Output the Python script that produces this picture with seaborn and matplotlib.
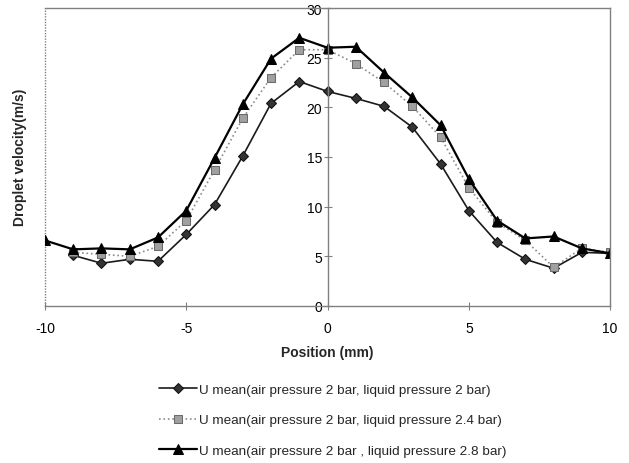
import numpy as np
import pandas as pd
import matplotlib
matplotlib.use("Agg")
import matplotlib.pyplot as plt
import seaborn as sns

positions_1 = [-9, -8, -7, -6, -5, -4, -3, -2, -1, 0, 1, 2, 3, 4, 5, 6, 7, 8, 9, 10]
u_2bar = [5.1, 4.3, 4.7, 4.5, 7.2, 10.2, 15.1, 20.4, 22.6, 21.6, 20.9, 20.1, 18.0, 14.3, 9.6, 6.4, 4.7, 3.8, 5.4, 5.3]

positions_2 = [-9, -8, -7, -6, -5, -4, -3, -2, -1, 0, 1, 2, 3, 4, 5, 6, 7, 8, 9, 10]
u_24bar = [5.4, 5.2, 5.0, 6.0, 8.6, 13.7, 18.9, 23.0, 25.8, 25.8, 24.4, 22.5, 20.1, 17.0, 11.9, 8.4, 6.6, 3.9, 5.8, 5.4]

positions_3 = [-10, -9, -8, -7, -6, -5, -4, -3, -2, -1, 0, 1, 2, 3, 4, 5, 6, 7, 8, 9, 10]
u_28bar = [6.6, 5.7, 5.8, 5.7, 6.9, 9.6, 14.9, 20.3, 24.9, 27.0, 26.0, 26.1, 23.5, 21.0, 18.2, 12.8, 8.6, 6.8, 7.0, 5.8, 5.3]

labels = ["U mean(air pressure 2 bar, liquid pressure 2 bar)",
          "U mean(air pressure 2 bar, liquid pressure 2.4 bar)",
          "U mean(air pressure 2 bar , liquid pressure 2.8 bar)"]

x_ticks = [-10, -5, 0, 5, 10]
y_ticks = [0, 5, 10, 15, 20, 25, 30]

sns.set_theme(style="white")
plt.rcParams['font.family'] = ['Liberation Sans', 'DejaVu Sans']

fig = plt.figure(figsize=(6.29, 4.64), dpi=100)
ax = fig.add_axes([0.0715, 0.3384, 0.8985, 0.6422])

styles = [
    dict(color="#1a1a1a", marker="D", markersize=5, linestyle="-", linewidth=1.2,
         markerfacecolor="#333333", markeredgecolor="#111111"),
    dict(color="#8c8c8c", marker="s", markersize=6, linestyle=":", linewidth=1.2,
         markerfacecolor="#a0a0a0", markeredgecolor="#6a6a6a"),
    dict(color="#000000", marker="^", markersize=7, linestyle="-", linewidth=1.6,
         markerfacecolor="#000000", markeredgecolor="#000000"),
]
data = [(positions_1, u_2bar), (positions_2, u_24bar), (positions_3, u_28bar)]
for (xs, ys), lab, st in zip(data, labels, styles):
    df = pd.DataFrame({"Position": xs, "Velocity": ys})
    sns.lineplot(data=df, x="Position", y="Velocity", ax=ax, label=lab,
                 estimator=None, sort=False, **st)

ax.set_xlim(-10, 10)
ax.set_ylim(0, 30)
ax.set_xticks(x_ticks)
ax.set_xticklabels([str(t) for t in x_ticks])
ax.set_yticks(y_ticks)
ax.set_yticklabels([str(t) for t in y_ticks])

frame_col = "#808080"
ax.spines['left'].set_position(('data', 0))
ax.spines['left'].set_color(frame_col)
ax.spines['left'].set_linewidth(1.0)
for s in ['top', 'right', 'bottom']:
    ax.spines[s].set_linestyle((0, (1, 1)))
    ax.spines[s].set_color(frame_col)
    ax.spines[s].set_linewidth(1.0)
ax.axvline(-10, color=frame_col, linestyle=(0, (1, 1)), linewidth=1.0, clip_on=False, zorder=0)

ax.tick_params(axis='both', which='major', direction='inout', length=6, width=0.8,
               color=frame_col, labelsize=10, labelcolor='black')
ax.tick_params(axis='x', pad=8)
ax.tick_params(axis='y', pad=1)
ax.yaxis.set_ticks_position('left')
ax.xaxis.set_ticks_position('bottom')

ax.set_xlabel("Position (mm)", fontsize=10, fontweight='bold', labelpad=7)
ax.set_ylabel("")
fig.text(0.032, 0.66, "Droplet velocity(m/s)", rotation=90, ha='center', va='center',
         fontsize=10, fontweight='bold')

handles, labs = ax.get_legend_handles_labels()
ax.get_legend().remove()
fig.legend(handles, labs, loc='upper left', bbox_to_anchor=(0.245, 0.183),
           frameon=False, fontsize=9.7, handlelength=2.8, handletextpad=0.1,
           labelspacing=1.33, borderaxespad=0)

fig.savefig("out.png", dpi=100)
